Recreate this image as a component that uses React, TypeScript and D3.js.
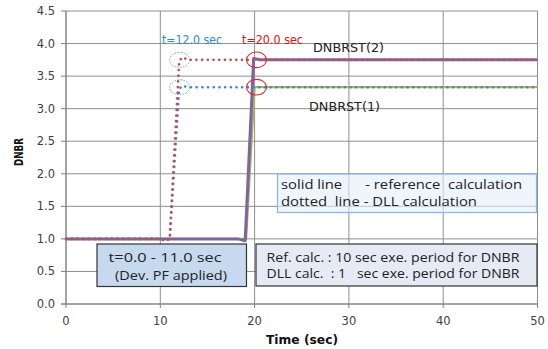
import React from "react";
import * as d3 from "d3";

const W = 548;
const H = 349;

const xTicks = [0, 10, 20, 30, 40, 50];
const yTicks = [0, 0.5, 1.0, 1.5, 2.0, 2.5, 3.0, 3.5, 4.0, 4.5];

// Reference calculation (solid)
const refTime1 = [0, 19.1, 20.0, 50];
const refDnbr1 = [1.0, 1.0, 3.33, 3.33];
const refTime2 = [0, 18.2, 19.0, 19.9, 20.6, 50];
const refDnbr2 = [1.0, 1.0, 0.97, 3.77, 3.75, 3.75];

// DLL calculation (dotted)
const dllTime1 = [0, 10.0, 10.5, 11.0, 12.0, 12.3, 13.0, 50];
const dllDnbr1 = [1.0, 1.0, 0.97, 1.0, 3.3, 3.35, 3.33, 3.33];
const dllTime2 = [0, 10.0, 10.5, 11.0, 12.0, 12.3, 13.0, 50];
const dllDnbr2 = [1.0, 1.0, 0.97, 1.0, 3.72, 3.79, 3.75, 3.75];

const blueMarks = [
  { t: 12.05, v: 3.75 },
  { t: 12.05, v: 3.33 },
];
const redMarks = [
  { t: 20.2, v: 3.75 },
  { t: 20.2, v: 3.33 },
];

export default function App() {
  const x = d3.scaleLinear().domain([0, 50]).range([66, 537.5]);
  const y = d3.scaleLinear().domain([0, 4.5]).range([304, 11]);

  const mk = (ts: number[], vs: number[]) =>
    d3
      .line<number>()
      .x((_, i) => x(ts[i]))
      .y((v) => y(v))(vs) as string;

  const grid = "#8f8f8f";
  const tickFont = "DejaVu Sans, Verdana, sans-serif";
  const boxFont = "Open Sans, Liberation Sans, sans-serif";

  return (
    <svg
      width={W}
      height={H}
      style={{ position: "absolute", left: 0, top: 0, background: "#fff" }}
    >
      <rect x={0} y={0} width={W} height={H} fill="#fff" />
      {/* gridlines */}
      {yTicks.map((t) => (
        <line key={"gy" + t} x1={x(0)} x2={x(50)} y1={y(t)} y2={y(t)} stroke={grid} strokeWidth={1} />
      ))}
      {xTicks.map((t) => (
        <line key={"gx" + t} x1={x(t)} x2={x(t)} y1={y(0)} y2={y(4.5)} stroke={grid} strokeWidth={1} />
      ))}
      {/* axes */}
      <line x1={x(0)} x2={x(0)} y1={y(0)} y2={y(4.5)} stroke="#808080" strokeWidth={1} />
      <line x1={x(0) - 5} x2={x(50)} y1={y(0)} y2={y(0)} stroke="#808080" strokeWidth={1} />
      {yTicks.map((t) => (
        <line key={"ty" + t} x1={x(0) - 5} x2={x(0)} y1={y(t)} y2={y(t)} stroke="#808080" />
      ))}
      {xTicks.map((t) => (
        <line key={"tx" + t} x1={x(t)} x2={x(t)} y1={y(0)} y2={y(0) + 4} stroke="#808080" />
      ))}
      {yTicks.map((t) => (
        <text
          key={"ly" + t}
          x={55}
          y={y(t)}
          dy="0.35em"
          textAnchor="end"
          fontFamily={tickFont}
          fontSize={11.5}
          fill="#404040"
        >
          {t.toFixed(1)}
        </text>
      ))}
      {xTicks.map((t) => (
        <text
          key={"lx" + t}
          x={x(t)}
          y={321}
          dy="0.35em"
          textAnchor="middle"
          fontFamily={tickFont}
          fontSize={11.5}
          fill="#404040"
        >
          {t}
        </text>
      ))}
      <text x={302} y={340} dy="0.35em" textAnchor="middle" fontFamily={tickFont} fontSize={12.5} fontWeight="bold" fill="#111" textLength={72} lengthAdjust="spacingAndGlyphs">
        Time (sec)
      </text>
      <text
        transform="translate(18,152) rotate(-90)"
        textAnchor="middle"
        dy="0.35em"
        fontFamily={tickFont}
        fontSize={13}
        fontWeight="bold"
        fill="#111"
        textLength={28}
        lengthAdjust="spacingAndGlyphs"
      >
        DNBR
      </text>

      {/* box 1 - legend note (semi-transparent) */}
      <rect x={277.5} y={174} width={259} height={38.5} fill="#e3eff9" fillOpacity={0.6} stroke="#8db3e2" strokeWidth={1.2} />
      <text x={281} y={184.5} dy="0.35em" fontFamily={boxFont} fontSize={13} fill="#222" style={{ whiteSpace: "pre" }} textLength={241} lengthAdjust="spacingAndGlyphs">
        {"solid line      - reference  calculation"}
      </text>
      <text x={281} y={201.5} dy="0.35em" fontFamily={boxFont} fontSize={13} fill="#222" style={{ whiteSpace: "pre" }} textLength={196} lengthAdjust="spacingAndGlyphs">
        {"dotted  line - DLL calculation"}
      </text>

      {/* lines */}
      <path d={mk(refTime1, refDnbr1)} fill="none" stroke="#9bbb59" strokeWidth={2.2} strokeLinejoin="round" />
      <path d={mk(refTime2, refDnbr2)} fill="none" stroke="#8064a2" strokeWidth={3} strokeLinejoin="round" />
      <path d={mk(dllTime1, dllDnbr1)} fill="none" stroke="#4f81bd" strokeWidth={2.6} strokeDasharray="0.1 5.6" strokeLinecap="round" />
      <path d={mk(dllTime2, dllDnbr2)} fill="none" stroke="#c0504d" strokeWidth={2.6} strokeDasharray="0.1 5.6" strokeLinecap="round" />

      {/* markers */}
      {blueMarks.map((m, i) => (
        <ellipse key={"bm" + i} cx={x(m.t)} cy={y(m.v)} rx={10} ry={7.5} fill="none" stroke="#4aa3e0" strokeWidth={1} strokeDasharray="1.5 1.5" />
      ))}
      {redMarks.map((m, i) => (
        <ellipse key={"rm" + i} cx={x(m.t)} cy={y(m.v)} rx={10} ry={7.8} fill="none" stroke="#d52b2b" strokeWidth={1.1} />
      ))}
      <text x={162} y={39.5} dy="0.35em" fontFamily={tickFont} fontSize={12} fill="#2f8ad0" textLength={60} lengthAdjust="spacingAndGlyphs">
        t=12.0 sec
      </text>
      <text x={242} y={39.5} dy="0.35em" fontFamily={tickFont} fontSize={12} fill="#e01010" textLength={61} lengthAdjust="spacingAndGlyphs">
        t=20.0 sec
      </text>
      <text x={313} y={47} dy="0.35em" fontFamily={tickFont} fontSize={13} fill="#222" textLength={71} lengthAdjust="spacingAndGlyphs">
        DNBRST(2)
      </text>
      <text x={309} y={106} dy="0.35em" fontFamily={tickFont} fontSize={13} fill="#222" textLength={71} lengthAdjust="spacingAndGlyphs">
        DNBRST(1)
      </text>

      {/* box 3 */}
      <rect x={97} y={244} width={149.5} height={42.5} fill="#c6d9ee" stroke="#333" strokeWidth={1.2} />
      <text x={165} y={257.5} dy="0.35em" textAnchor="middle" fontFamily={boxFont} fontSize={13} fill="#222" textLength={113} lengthAdjust="spacingAndGlyphs">
        t=0.0 - 11.0 sec
      </text>
      <text x={171} y={275} dy="0.35em" textAnchor="middle" fontFamily={boxFont} fontSize={13} fill="#222" textLength={112} lengthAdjust="spacingAndGlyphs">
        (Dev. PF applied)
      </text>

      {/* box 2 */}
      <rect x={256} y={244} width={281} height={42} fill="#e6eaf5" stroke="#333" strokeWidth={1.2} />
      <text x={266.5} y={257} dy="0.35em" fontFamily={boxFont} fontSize={13} fill="#222" style={{ whiteSpace: "pre" }} textLength={253} lengthAdjust="spacingAndGlyphs">
        {"Ref. calc. : 10 sec exe. period for DNBR"}
      </text>
      <text x={266.5} y={273.5} dy="0.35em" fontFamily={boxFont} fontSize={13} fill="#222" style={{ whiteSpace: "pre" }} textLength={253} lengthAdjust="spacingAndGlyphs">
        {"DLL calc.  : 1   sec exe. period for DNBR"}
      </text>
    </svg>
  );
}
